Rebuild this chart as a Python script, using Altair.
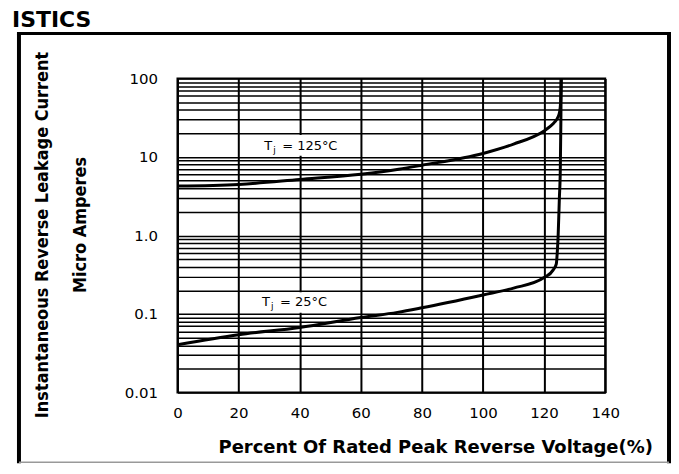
import altair as alt
import pandas as pd

# ---- data ----
pct_25 = [0, 20, 40, 60, 72, 80, 100, 110, 120, 123, 124, 124.3, 124.6, 125.0, 125.3, 125.5, 125.6]
leak_25 = [0.0407, 0.0545, 0.0675, 0.0904, 0.105, 0.120, 0.175, 0.214, 0.291, 0.365, 0.435, 0.6, 1.0, 3.0, 6.8, 30, 100]

pct_125 = [0, 20, 40, 60, 72.4, 80, 100, 110, 120, 122, 123.5, 124.5, 125.1, 125.4, 125.6]
leak_125 = [4.26, 4.47, 5.17, 6.04, 6.98, 7.85, 11.1, 14.6, 21.5, 24.5, 28, 32, 38, 50, 100]

x_ticks = [0, 20, 40, 60, 80, 100, 120, 140]
y_tick_values = [0.01, 0.1, 1, 10, 100]
y_tick_labels = ["0.01", "0.1", "1.0", "10", "100"]
minor_mult = [1, 2, 3, 4, 5, 6, 7, 8, 9]

label_temp = ["125°C", "25°C"]
label_x = [28.4, 27.7]
label_y = [13.7, 0.143]
box_x0 = [22, 22]
box_x1 = [57.5, 57.5]
box_y0 = [10.4, 0.104]
box_y1 = [19.0, 0.19]

title_text = "ISTICS"
x_title = "Percent Of Rated Peak Reverse Voltage(%)"
y_title_1 = "Instantaneous Reverse Leakage Current"
y_title_2 = "Micro Amperes"

# ---- tables ----
curves = pd.concat([
    pd.DataFrame({"pct": pct_25, "leak": leak_25, "series": "25", "order": range(len(pct_25))}),
    pd.DataFrame({"pct": pct_125, "leak": leak_125, "series": "125", "order": range(len(pct_125))}),
])
grid_vals = [d * m for d in y_tick_values[:-1] for m in minor_mult] + [y_tick_values[-1]]
lab_map = ", ".join(f"'{v}': '{l}'" for v, l in zip(y_tick_values, y_tick_labels))
label_expr = f"({{{lab_map}}})[toString(datum.value)] || ''"

labels = pd.DataFrame({"temp": label_temp, "x": label_x, "y": label_y,
                       "x0": box_x0, "x1": box_x1, "y0": box_y0, "y1": box_y1})
one = pd.DataFrame({"a": [0]})

FONT = "DejaVu Sans"
NARROW = "Liberation Sans Narrow, Arial Narrow, DejaVu Sans Condensed"

xscale = alt.Scale(domain=[0, 140], nice=False, zero=False)
yscale = alt.Scale(type="log", domain=[0.01, 100], nice=False)

lines = alt.Chart(curves).mark_line(color="black", strokeWidth=3, interpolate="monotone").encode(
    x=alt.X("pct:Q", scale=xscale, axis=alt.Axis(
        values=x_ticks, title=None, ticks=False, tickSize=0, domain=False,
        labelFont=FONT, labelFontSize=15, labelColor="black", labelPadding=13,
        labelFlush=False,
        grid=True, gridColor="black", gridWidth=2, gridOpacity=1)),
    y=alt.Y("leak:Q", scale=yscale, axis=alt.Axis(
        values=grid_vals, labelExpr=label_expr, labelOverlap=False, title=None,
        ticks=False, tickSize=0, domain=False, labelFlush=False,
        labelFont=FONT, labelFontSize=15, labelColor="black", labelPadding=20,
        grid=True, gridColor="black", gridWidth=1.5, gridOpacity=1)),
    detail="series:N",
    order="order:Q",
)

boxes = alt.Chart(labels).mark_rect(color="white").encode(
    x=alt.X("x0:Q", scale=xscale), x2="x1:Q",
    y=alt.Y("y0:Q", scale=yscale), y2="y1:Q",
)
base_txt = alt.Chart(labels)
t_T = base_txt.mark_text(text="T", align="left", baseline="middle", font=FONT, fontSize=13, color="black").encode(
    x=alt.X("x:Q", scale=xscale), y=alt.Y("y:Q", scale=yscale))
t_j = base_txt.mark_text(text="j", align="left", baseline="middle", font=FONT, fontSize=9, color="black", dx=9, dy=4).encode(
    x=alt.X("x:Q", scale=xscale), y=alt.Y("y:Q", scale=yscale))
t_rest = base_txt.mark_text(align="left", baseline="middle", font=FONT, fontSize=13, color="black", dx=18).encode(
    x=alt.X("x:Q", scale=xscale), y=alt.Y("y:Q", scale=yscale),
    text=alt.Text("rest:N")).transform_calculate(rest="'= ' + datum.temp")

base = alt.Chart(one)
title_mark = base.mark_text(text=title_text, align="left", baseline="alphabetic", font=FONT,
                            fontSize=22, fontWeight="bold", color="black").encode(
    x=alt.value(-166), y=alt.value(-52))
xt = base.mark_text(text=x_title, align="center", baseline="middle", font=FONT,
                    fontSize=18, fontWeight="bold", color="black").encode(
    x=alt.value(259), y=alt.value(371))
yt1 = base.mark_text(text=y_title_1, align="center", baseline="middle", font=NARROW,
                     fontSize=18, fontWeight="bold", color="black", angle=270).encode(
    x=alt.value(-135), y=alt.value(157))
yt2 = base.mark_text(text=y_title_2, align="center", baseline="middle", font=NARROW,
                     fontSize=18, fontWeight="bold", color="black", angle=270).encode(
    x=alt.value(-97), y=alt.value(147))

f_left = base.mark_rule(color="black", strokeWidth=4).encode(x=alt.value(-159), y=alt.value(-45), y2=alt.value(386))
f_top = base.mark_rule(color="black", strokeWidth=3).encode(x=alt.value(-161), x2=alt.value(495), y=alt.value(-45))
f_right = base.mark_rule(color="black", strokeWidth=4).encode(x=alt.value(493), y=alt.value(-45), y2=alt.value(386))
f_bot = base.mark_rule(color="#999", strokeWidth=1.5).encode(x=alt.value(-159), x2=alt.value(493), y=alt.value(385))

chart = alt.layer(
    lines, boxes, t_T, t_j, t_rest, title_mark, xt, yt1, yt2, f_left, f_top, f_right, f_bot
).properties(
    width=429, height=315,
    autosize=alt.AutoSizeParams(type="none"),
    padding={"left": 170, "top": 70, "right": 66, "bottom": 72},
    background="white",
).configure_view(stroke="black", strokeWidth=2)

chart.save("out.html", embed_options={"renderer": "svg", "actions": False})
